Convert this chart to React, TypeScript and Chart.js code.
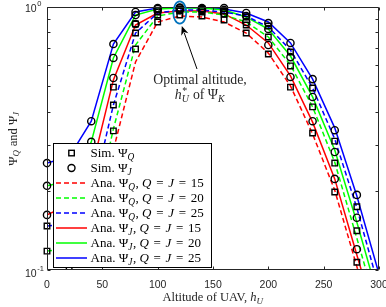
import React, { useEffect, useRef } from 'react';
import { Chart, registerables } from 'chart.js';

Chart.register(...registerables);

// ---------- data ----------
const altitudeAna = [0, 20, 40, 60, 80, 100, 120, 140, 160, 180, 200, 220, 240, 260, 280, 300];
const altitudeSim = [0, 20, 40, 60, 80, 100, 120, 140, 160, 180, 200, 220, 240, 260, 280];

const anaPsiQ15 = [0.0877, 0.0983, 0.119, 0.286, 0.618, 0.877, 0.924, 0.916, 0.877, 0.796, 0.668, 0.501, 0.329, 0.201, 0.103, 0.0528];
const anaPsiQ20 = [0.118, 0.121, 0.144, 0.344, 0.717, 0.924, 0.957, 0.957, 0.932, 0.877, 0.769, 0.602, 0.417, 0.257, 0.132, 0.0675];
const anaPsiQ25 = [0.147, 0.15, 0.185, 0.424, 0.796, 0.949, 0.974, 0.974, 0.957, 0.924, 0.839, 0.686, 0.492, 0.315, 0.172, 0.0854];
const anaPsiJ15 = [0.162, 0.177, 0.238, 0.528, 0.854, 0.949, 0.966, 0.966, 0.941, 0.854, 0.73, 0.547, 0.365, 0.222, 0.114, 0.0592];
const anaPsiJ20 = [0.209, 0.218, 0.307, 0.64, 0.932, 0.983, 0.991, 0.991, 0.974, 0.916, 0.825, 0.651, 0.455, 0.286, 0.152, 0.0769];
const anaPsiJ25 = [0.255, 0.269, 0.368, 0.723, 0.957, 0.991, 0.995, 0.993, 0.983, 0.949, 0.877, 0.73, 0.532, 0.347, 0.191, 0.0966];

const simPsiQ15 = [0.0877, 0.1, 0.148, 0.338, 0.692, 0.877, 0.932, 0.924, 0.893, 0.796, 0.663, 0.496, 0.332, 0.198, 0.107];
const simPsiQ20 = [0.118, 0.124, 0.185, 0.424, 0.796, 0.932, 0.966, 0.957, 0.941, 0.854, 0.769, 0.597, 0.417, 0.255, 0.141];
const simPsiQ25 = [0.147, 0.155, 0.22, 0.496, 0.862, 0.957, 0.983, 0.983, 0.966, 0.916, 0.847, 0.674, 0.492, 0.309, 0.174];
const simPsiJ15 = [0.162, 0.177, 0.244, 0.537, 0.862, 0.966, 0.974, 0.974, 0.949, 0.877, 0.717, 0.542, 0.368, 0.222, 0.12];
const simPsiJ20 = [0.209, 0.22, 0.307, 0.64, 0.932, 0.983, 0.991, 0.983, 0.974, 0.924, 0.825, 0.645, 0.455, 0.281, 0.158];
const simPsiJ25 = [0.255, 0.269, 0.368, 0.723, 0.957, 0.991, 0.995, 0.991, 0.991, 0.949, 0.869, 0.73, 0.532, 0.34, 0.193];

const groupSizes = [15, 20, 25];
const seriesColors = ['#FF0000', '#00FF00', '#0000FF'];
const xTickValues = [0, 50, 100, 150, 200, 250, 300];
const yMajorTicks = [0.1, 1];
const yMinorTicks = [0.2, 0.3, 0.4, 0.5, 0.6, 0.7, 0.8, 0.9];
const optimalAltitude = 120;

// ---------- rich text ----------
type Seg = { t: string; it?: boolean; pos?: 'sub'; sup?: string; gap?: number };
const SERIF = '"Liberation Serif", "Times New Roman", serif';
const SANS = '"Liberation Sans", Arial, Helvetica, sans-serif';
const fnt = (s: number, it?: boolean) => `${it ? 'italic ' : ''}${s}px ${SERIF}`;

function drawRich(ctx: CanvasRenderingContext2D, segs: Seg[], x: number, y: number, size: number, align: 'left' | 'center') {
  const small = size * 0.72;
  const widths = segs.map((sg) => {
    if (sg.gap !== undefined) return sg.gap * size;
    if (sg.pos) {
      ctx.font = fnt(small, sg.it);
      let w = ctx.measureText(sg.t).width;
      if (sg.sup) {
        ctx.font = fnt(small, false);
        w = Math.max(w, ctx.measureText(sg.sup).width);
      }
      return w + 0.6;
    }
    ctx.font = fnt(size, sg.it);
    return ctx.measureText(sg.t).width;
  });
  const total = widths.reduce((a, b) => a + b, 0);
  let cx = align === 'center' ? x - total / 2 : x;
  ctx.textBaseline = 'alphabetic';
  ctx.textAlign = 'left';
  segs.forEach((sg, i) => {
    if (sg.gap !== undefined) {
      // spacing only
    } else if (sg.pos === 'sub') {
      ctx.font = fnt(small, sg.it);
      ctx.fillText(sg.t, cx, y + size * 0.22);
      if (sg.sup) {
        ctx.font = fnt(small, false);
        ctx.fillText(sg.sup, cx + 0.5, y - size * 0.38);
      }
    } else {
      ctx.font = fnt(size, sg.it);
      ctx.fillText(sg.t, cx, y);
    }
    cx += widths[i];
  });
}

const EQ: Seg[] = [{ t: '', gap: 0.36 }, { t: '=' }, { t: '', gap: 0.36 }];
const simLabel = (k: string): Seg[] => [{ t: 'Sim. Ψ' }, { t: k, it: true, pos: 'sub' }];
const anaLabel = (k: string, n: number): Seg[] => [
  { t: 'Ana. Ψ' },
  { t: k, it: true, pos: 'sub' },
  { t: ', ' },
  { t: 'Q', it: true },
  ...EQ,
  { t: 'J', it: true },
  ...EQ,
  { t: `${n}` },
];

type LegendRow = { kind: 'rect' | 'circle' | 'line'; color?: string; dashed?: boolean; segs: Seg[] };
const legendRows: LegendRow[] = [
  { kind: 'rect', segs: simLabel('Q') },
  { kind: 'circle', segs: simLabel('J') },
  ...groupSizes.map((n, i) => ({ kind: 'line' as const, color: seriesColors[i], dashed: true, segs: anaLabel('Q', n) })),
  ...groupSizes.map((n, i) => ({ kind: 'line' as const, color: seriesColors[i], dashed: false, segs: anaLabel('J', n) })),
];

const DASH = [5, 3];

const overlay = {
  id: 'overlay',
  afterDraw(chart: any) {
    const ctx: CanvasRenderingContext2D = chart.ctx;
    const { left, right, top, bottom } = chart.chartArea;
    const xs = chart.scales.x;
    const ys = chart.scales.y;
    ctx.save();

    // axes box + inward ticks
    const L = Math.round(left) + 0.5;
    const R = Math.round(right) - 0.5;
    const T = Math.round(top) + 0.5;
    const B = Math.round(bottom) - 0.5;
    ctx.strokeStyle = '#262626';
    ctx.lineWidth = 1;
    ctx.setLineDash([]);
    ctx.beginPath();
    ctx.rect(L, T, R - L, B - T);
    xTickValues.forEach((v) => {
      const px = Math.round(xs.getPixelForValue(v)) + 0.5;
      ctx.moveTo(px, B);
      ctx.lineTo(px, B - 3);
      ctx.moveTo(px, T);
      ctx.lineTo(px, T + 3);
    });
    [...yMajorTicks, ...yMinorTicks].forEach((v) => {
      const py = Math.round(ys.getPixelForValue(v)) + 0.5;
      ctx.moveTo(L, py);
      ctx.lineTo(L + 3, py);
      ctx.moveTo(R, py);
      ctx.lineTo(R - 3, py);
    });
    ctx.stroke();

    // y tick labels 10^n
    ctx.fillStyle = '#262626';
    ctx.textBaseline = 'middle';
    ctx.textAlign = 'left';
    yMajorTicks.forEach((v) => {
      const e = Math.round(Math.log10(v));
      const py = ys.getPixelForValue(v);
      const cy = e === 0 ? py + 2 : py + 4;
      ctx.font = `10.5px ${SANS}`;
      ctx.fillText('10', 25, cy);
      const w = ctx.measureText('10').width;
      ctx.font = `7.5px ${SANS}`;
      ctx.fillText(e === 0 ? '0' : '-1', 25 + w + 0.5, cy - 5);
    });

    // axis titles
    ctx.fillStyle = '#262626';
    drawRich(ctx, [{ t: 'Altitude of UAV, ' }, { t: 'h', it: true }, { t: 'U', it: true, pos: 'sub' }], (left + right) / 2, 301, 12.5, 'center');
    ctx.save();
    ctx.translate(12.5, (top + bottom) / 2);
    ctx.rotate(-Math.PI / 2);
    drawRich(ctx, [{ t: 'Ψ' }, { t: 'Q', it: true, pos: 'sub' }, { t: ' and Ψ' }, { t: 'J', it: true, pos: 'sub' }], 0, 4, 12.5, 'center');
    ctx.restore();

    // legend
    const lx0 = 53, ly0 = 143, lx1 = 212, ly1 = 268;
    ctx.fillStyle = '#ffffff';
    ctx.fillRect(lx0, ly0, lx1 - lx0, ly1 - ly0);
    ctx.strokeStyle = '#000000';
    ctx.lineWidth = 1;
    ctx.strokeRect(lx0 + 0.5, ly0 + 0.5, lx1 - lx0 - 1, ly1 - ly0 - 1);
    legendRows.forEach((row, i) => {
      const cy = 153 + i * 15;
      if (row.kind === 'line') {
        ctx.strokeStyle = row.color!;
        ctx.lineWidth = 1.5;
        ctx.setLineDash(row.dashed ? DASH : []);
        ctx.beginPath();
        ctx.moveTo(56, cy);
        ctx.lineTo(87, cy);
        ctx.stroke();
        ctx.setLineDash([]);
      } else if (row.kind === 'rect') {
        ctx.strokeStyle = '#000';
        ctx.lineWidth = 1.4;
        ctx.strokeRect(68.8, cy - 2.7, 5.5, 5.5);
      } else {
        ctx.strokeStyle = '#000';
        ctx.lineWidth = 1.4;
        ctx.beginPath();
        ctx.arc(71.5, cy, 3.5, 0, Math.PI * 2);
        ctx.stroke();
      }
      ctx.fillStyle = '#000';
      drawRich(ctx, row.segs, 90.5, cy + 4.3, 13, 'left');
    });

    // annotation ellipse
    const ex = xs.getPixelForValue(optimalAltitude);
    ctx.strokeStyle = '#0072BD';
    ctx.lineWidth = 1.8;
    ctx.beginPath();
    ctx.ellipse(ex, 12.5, 6.5, 11.2, 0, 0, Math.PI * 2);
    ctx.stroke();

    // arrow
    const tx = 197, tyy = 69, hx = ex + 2, hy = 26;
    const ang = Math.atan2(hy - tyy, hx - tx);
    const hl = 9, hw = 3.8;
    ctx.strokeStyle = '#000';
    ctx.fillStyle = '#000';
    ctx.lineWidth = 1;
    ctx.beginPath();
    ctx.moveTo(tx, tyy);
    ctx.lineTo(hx - Math.cos(ang) * hl * 0.8, hy - Math.sin(ang) * hl * 0.8);
    ctx.stroke();
    ctx.beginPath();
    ctx.moveTo(hx, hy);
    const bx = hx - Math.cos(ang) * hl, by = hy - Math.sin(ang) * hl;
    ctx.lineTo(bx + Math.sin(ang) * hw, by - Math.cos(ang) * hw);
    ctx.lineTo(hx - Math.cos(ang) * hl * 0.7, hy - Math.sin(ang) * hl * 0.7);
    ctx.lineTo(bx - Math.sin(ang) * hw, by + Math.cos(ang) * hw);
    ctx.closePath();
    ctx.fill();

    // annotation text
    ctx.fillStyle = '#262626';
    drawRich(ctx, [{ t: 'Optimal altitude,' }], 200, 83.5, 13.8, 'center');
    drawRich(ctx, [{ t: 'h', it: true }, { t: 'U', it: true, pos: 'sub', sup: '*' }, { t: ' of Ψ' }, { t: 'K', it: true, pos: 'sub' }], 200, 99, 13.8, 'center');

    ctx.restore();
  },
};

export default function App() {
  const ref = useRef<HTMLCanvasElement>(null);
  useEffect(() => {
    const canvas = ref.current;
    if (!canvas) return;
    const mk = (xv: number[], yv: number[]) => xv.map((x, i) => ({ x, y: yv[i] }));
    const markerClip = { left: 8, right: 8, top: 8, bottom: 0 };
    const datasets: any[] = [];
    [simPsiQ15, simPsiQ20, simPsiQ25].forEach((s, i) =>
      datasets.push({
        label: `Sim Psi_Q ${groupSizes[i]}`,
        data: mk(altitudeSim, s),
        showLine: false,
        pointStyle: 'rect',
        pointRadius: 3.9,
        pointBorderWidth: 1.4,
        borderColor: '#000',
        backgroundColor: 'rgba(0,0,0,0)',
        clip: markerClip,
      })
    );
    [simPsiJ15, simPsiJ20, simPsiJ25].forEach((s, i) =>
      datasets.push({
        label: `Sim Psi_J ${groupSizes[i]}`,
        data: mk(altitudeSim, s),
        showLine: false,
        pointStyle: 'circle',
        pointRadius: 3.6,
        pointBorderWidth: 1.4,
        borderColor: '#000',
        backgroundColor: 'rgba(0,0,0,0)',
        clip: markerClip,
      })
    );
    [anaPsiQ15, anaPsiQ20, anaPsiQ25].forEach((s, i) =>
      datasets.push({
        label: `Ana Psi_Q ${groupSizes[i]}`,
        data: mk(altitudeAna, s),
        borderColor: seriesColors[i],
        borderWidth: 1.5,
        borderDash: DASH,
        pointRadius: 0,
        tension: 0,
        fill: false,
        clip: 0,
      })
    );
    [anaPsiJ15, anaPsiJ20, anaPsiJ25].forEach((s, i) =>
      datasets.push({
        label: `Ana Psi_J ${groupSizes[i]}`,
        data: mk(altitudeAna, s),
        borderColor: seriesColors[i],
        borderWidth: 1.5,
        pointRadius: 0,
        tension: 0,
        fill: false,
        clip: 0,
      })
    );

    const chart = new Chart(canvas, {
      type: 'line',
      data: { datasets },
      options: {
        responsive: false,
        animation: false,
        devicePixelRatio: 1,
        events: [],
        layout: { padding: { top: 7, right: 7, left: 0, bottom: 0 } },
        plugins: { legend: { display: false }, tooltip: { enabled: false } },
        scales: {
          x: {
            type: 'linear',
            min: 0,
            max: 300,
            border: { display: false },
            grid: { display: false, drawTicks: false },
            ticks: {
              stepSize: 50,
              padding: 9,
              color: '#262626',
              maxRotation: 0,
              autoSkip: false,
              font: { family: SANS, size: 10.5 },
            },
            afterFit: (s: any) => {
              s.height = 37;
              s.paddingLeft = 0;
              s.paddingRight = 0;
            },
          },
          y: {
            type: 'logarithmic',
            min: 0.1,
            max: 1,
            border: { display: false },
            grid: { display: false, drawTicks: false },
            ticks: { callback: () => '' },
            afterFit: (s: any) => {
              s.width = 47;
              s.paddingTop = 0;
              s.paddingBottom = 0;
            },
          },
        },
      } as any,
      plugins: [overlay],
    });
    return () => chart.destroy();
  }, []);

  return (
    <div style={{ position: 'fixed', left: 0, top: 0, width: 386, height: 307, background: '#fff' }}>
      <canvas ref={ref} width={386} height={307} style={{ display: 'block', width: 386, height: 307 }} />
    </div>
  );
}
